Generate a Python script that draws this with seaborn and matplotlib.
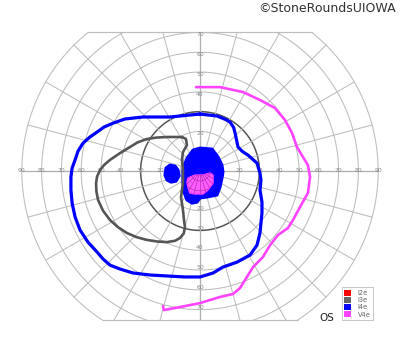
import numpy as np
import matplotlib
matplotlib.use("Agg")
import matplotlib.pyplot as plt
import seaborn as sns
import pandas as pd
from matplotlib.patches import Rectangle, Patch

# ---- Data: isopters in visual-field degrees (x = horizontal, y = vertical) ----
i4e_x = [0, 8.6, 13.0, 15.2, 17.0, 17.7, 18.5, 19.2, 21.5, 24.2, 28.8, 30.3, 30.8, 30.3, 31.3,
         31.3, 30.3, 28.8, 25.3, 18.7, 11.6, 6.6, 0, -7.6, -16.7, -25.3, -33.8, -40.4, -45.5,
         -49.0, -52.0, -56.6, -60.6, -63.1, -64.6, -65.2, -65.2, -64.6, -63.1, -61.6, -59.1,
         -55.6, -52.0, -48.5, -43.9, -37.9, -28.8, -15.2]
i4e_y = [28.8, 27.8, 26.0, 24.7, 22.0, 19.2, 15.5, 12.1, 9.8, 8.1, 4.0, -1.0, -4.5, -9.6, -15.7,
         -21.2, -31.3, -37.4, -42.4, -46.0, -48.5, -51.5, -53.5, -53.5, -53.0, -52.5, -51.5, -49.5,
         -47.5, -44.4, -40.9, -35.9, -29.8, -23.2, -16.2, -9.6, -3.0, 1.5, 5.6, 10.1, 14.1,
         17.2, 19.7, 22.2, 24.2, 26.3, 27.3, 27.3]

i3e_x = [-9.1, -16.7, -22.0, -26.8, -31.5, -35.4, -40.5, -45.5, -48.5, -50.5, -52.0, -52.5,
         -52.3, -51.5, -49.0, -45.5, -41.5, -36.9, -32.0, -26.8, -21.5, -16.7, -12.5, -10.1,
         -8.2, -7.6, -8.2, -8.6, -9.6, -8.6, -8.6, -9.1, -8.6, -6.6, -7.1]
i3e_y = [17.2, 17.2, 16.9, 16.2, 14.5, 12.1, 9.0, 5.6, 3.0, 0.5, -2.8, -6.1, -10.5, -14.6, -20.0,
         -24.7, -28.3, -31.3, -33.4, -34.8, -35.6, -35.9, -35.2, -33.8, -31.5, -28.3, -23.8,
         -19.7, -13.1, -6.1, 0.5, 5.6, 9.6, 13.1, 16.2]

v4e_x = [-2.0, 10.1, 21.7, 30.3, 37.9, 42.9, 46.5, 49.0, 52.0, 54.5, 55.6, 54.5, 50.5, 47.0,
         44.4, 39.4, 35.4, 31.8, 26.8, 23.7, 20.2, 16.7, 10.1, 0, -10.1, -18.2, -18.7]
v4e_y = [42.4, 42.4, 39.9, 35.9, 31.8, 25.8, 19.2, 12.1, 7.1, 3.0, -3.0, -11.1, -18.2, -24.7,
         -28.8, -32.3, -37.4, -43.4, -48.5, -53.5, -59.1, -62.1, -63.6, -66.7, -68.7, -70.2, -68.2]

# filled scotomas
i4e_central_x = [-3.5, 0, 6.1, 9.1, 11.1, 11.6, 11.1, 10.1, 8.6, 3.5, 0, -1.5, -4.0, -6.6, -8.1,
                 -8.6, -8.6, -7.6, -6.1]
i4e_central_y = [10.6, 11.6, 11.1, 7.1, 3.0, -0.5, -3.5, -8.1, -12.1, -13.1, -13.6, -15.7, -16.2,
                 -14.6, -10.6, -5.6, 0.5, 4.0, 7.1]
v4e_central_x = [-6.1, -2.5, 1.5, 5.1, 6.6, 6.6, 4.0, 1.5, -2.5, -5.1, -6.1, -6.6]
v4e_central_y = [-3.5, -2.0, -2.0, -1.0, -2.0, -6.1, -9.6, -11.6, -11.6, -11.1, -8.1, -5.6]
blind_x = [-17.2, -15.2, -12.6, -11.1, -10.6, -12.1, -14.6, -16.7, -17.7]
blind_y = [1.5, 3.0, 2.5, 0.5, -2.5, -5.1, -5.6, -4.5, -2.0]

legend_labels = ["I2e", "I3e", "I4e", "V4e"]
legend_colors = ["#ff0000", "#666666", "#0000ff", "#ff44ff"]

ring_degrees = [10, 20, 30, 40, 50, 60, 70, 80, 90]
h_labels = [20, 30, 40, 50, 60, 70, 80, 90]
v_labels = [10, 20, 30, 40, 50, 60, 70]
meridians = list(range(0, 360, 15))
TOP, BOTTOM, OUTER = 70, -75, 90

sns.set_style("white")
plt.rcParams['font.family'] = ['DejaVu Sans']

fig = plt.figure(figsize=(4, 3.52), dpi=100)
ax = fig.add_axes([0, 0, 1, 1])
ax.set_xlim(-101, 101)
ax.set_ylim(-91.4, 86.4)
ax.set_aspect('equal')
ax.axis('off')

clip = Rectangle((-100, BOTTOM), 200, TOP - BOTTOM, transform=ax.transData)
grid_c = "#bdbdbd"
t = np.linspace(0, 2 * np.pi, 720)
for r in ring_degrees:
    col, lw = (("#555555", 1.1) if r == 30 else (grid_c, 0.75))
    ln, = ax.plot(r * np.cos(t), r * np.sin(t), color=col, lw=lw, zorder=1)
    ln.set_clip_path(clip)
for m in meridians:
    a = np.deg2rad(m)
    ln, = ax.plot([5 * np.cos(a), OUTER * np.cos(a)], [5 * np.sin(a), OUTER * np.sin(a)],
                  color=grid_c, lw=0.75, zorder=1)
    ln.set_clip_path(clip)
ax.plot([-OUTER, OUTER], [0, 0], color="#b0b0b0", lw=0.9, zorder=1)
ax.plot([0, 0], [BOTTOM, TOP], color="#b0b0b0", lw=0.9, zorder=1)
for yc in (TOP, BOTTOM):
    hw = np.sqrt(OUTER ** 2 - yc ** 2)
    ax.plot([-hw, hw], [yc, yc], color=grid_c, lw=0.85, zorder=1)

for v in h_labels:
    for sgn in (-1, 1):
        ax.text(sgn * v, 0.3, str(v), fontsize=4.4, color="#8a8a8a", ha='center', va='center', zorder=2)
for v in v_labels:
    for sgn in (-1, 1):
        ax.text(0, sgn * (v - 1.2), str(v), fontsize=4.4, color="#8a8a8a", ha='center', va='center', zorder=2)

# filled central scotomas
ax.fill(i4e_central_x, i4e_central_y, facecolor="#0000ff", edgecolor="#0000ff", lw=2.2,
        joinstyle='round', zorder=3)
ax.fill(blind_x, blind_y, facecolor="#0000ff", edgecolor="#0000ff", lw=2.2, joinstyle='round', zorder=3)
mag = ax.fill(v4e_central_x, v4e_central_y, facecolor="#ff5cff", edgecolor="#ff44ff", lw=1,
              joinstyle='round', zorder=4)[0]
for m in meridians:
    a = np.deg2rad(m)
    ln, = ax.plot([0, 20 * np.cos(a)], [0, 20 * np.sin(a)], color="#b030b0", lw=0.5, zorder=5)
    ln.set_clip_path(mag)
for r in (5, 10):
    ln, = ax.plot(r * np.cos(t), r * np.sin(t), color="#b030b0", lw=0.5, zorder=5)
    ln.set_clip_path(mag)

def closed(xs, ys):
    return pd.DataFrame({"x": list(xs) + [xs[0]], "y": list(ys) + [ys[0]]})

line_kw = dict(sort=False, estimator=None, ax=ax, zorder=6, solid_joinstyle='round',
               solid_capstyle='round')
sns.lineplot(data=closed(i3e_x, i3e_y), x="x", y="y", color="#555555", lw=1.9, **line_kw)
sns.lineplot(data=closed(i4e_x, i4e_y), x="x", y="y", color="#0000ff", lw=2.3, **line_kw)
sns.lineplot(data=pd.DataFrame({"x": v4e_x, "y": v4e_y}), x="x", y="y",
             color="#ff44ff", lw=1.9, **line_kw)
ax.set_xlabel(""); ax.set_ylabel("")
ax.axis('off')

handles = [Patch(facecolor=c, edgecolor='none') for c in legend_colors]
leg = fig.legend(handles, legend_labels, loc='lower right',
                 bbox_to_anchor=(373 / 400, 1 - 320 / 352), fontsize=4.8,
                 handlelength=1.0, handleheight=1.0, borderpad=0.35, labelspacing=0.15,
                 handletextpad=1.0, fancybox=False, framealpha=1, borderaxespad=0)
leg.get_frame().set_edgecolor("#bbbbbb")
leg.get_frame().set_linewidth(0.6)
for txt in leg.get_texts():
    txt.set_color("#666666")

fig.text(327 / 400, 1 - 318 / 352, "OS", fontsize=7.5, color="#222222", ha='center', va='center')
fig.text(396 / 400, 1 - 2 / 352, "©StoneRoundsUIOWA", fontsize=9, color="#333333",
         ha='right', va='top')

fig.savefig("out.png", dpi=100)
